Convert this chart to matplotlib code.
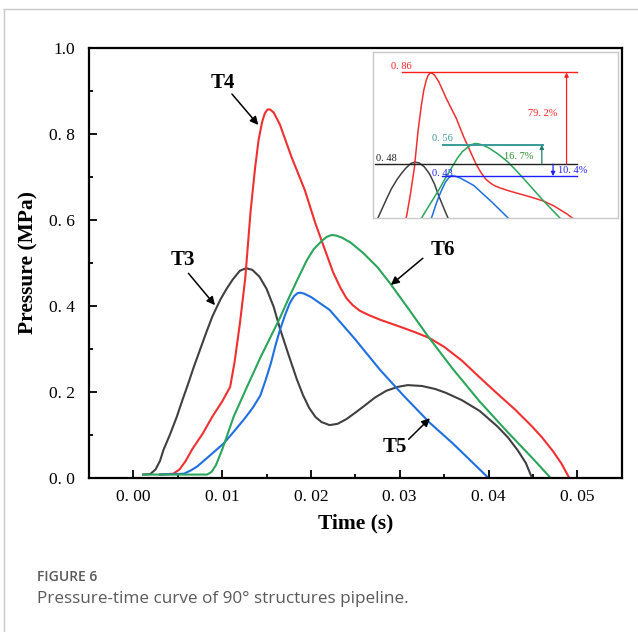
import matplotlib
matplotlib.use('Agg')
import matplotlib.pyplot as plt
from matplotlib.lines import Line2D
from matplotlib.ticker import MultipleLocator

# ---- data ----
t3_t = [0.0011, 0.0019, 0.0025, 0.0030, 0.0034, 0.0041, 0.0049, 0.0055, 0.0062, 0.0068,
        0.0075, 0.0082, 0.0089, 0.0098, 0.0105, 0.0112, 0.0120, 0.0127, 0.0134, 0.0142,
        0.0150, 0.0158, 0.0165, 0.0175, 0.0184, 0.0191, 0.0198, 0.0205, 0.0212, 0.0221,
        0.0230, 0.0240, 0.0250, 0.0259, 0.0272, 0.0285, 0.0298, 0.0309, 0.0325, 0.0340,
        0.0352, 0.0370, 0.0390, 0.0410, 0.0422, 0.0433, 0.0442, 0.0449]
t3_p = [0.008, 0.009, 0.020, 0.040, 0.066, 0.100, 0.143, 0.180, 0.221, 0.258,
        0.298, 0.338, 0.376, 0.415, 0.440, 0.462, 0.482, 0.488, 0.484, 0.468,
        0.440, 0.398, 0.348, 0.285, 0.230, 0.193, 0.163, 0.142, 0.130, 0.123,
        0.126, 0.137, 0.152, 0.166, 0.187, 0.203, 0.212, 0.216, 0.214, 0.207,
        0.198, 0.181, 0.156, 0.120, 0.094, 0.064, 0.035, 0.0]

t4_t = [0.0030, 0.0045, 0.0052, 0.0059, 0.0066, 0.0078, 0.0089, 0.0100, 0.0109, 0.0114,
        0.0120, 0.0126, 0.0132, 0.0137, 0.0141, 0.0145, 0.0148, 0.0151, 0.0154, 0.0158,
        0.0165, 0.0178, 0.0193, 0.0205, 0.0215, 0.0225, 0.0233, 0.0240, 0.0247, 0.0255,
        0.0265, 0.0278, 0.0300, 0.0316, 0.0333, 0.0350, 0.0370, 0.0390, 0.0410, 0.0430,
        0.0448, 0.0460, 0.0472, 0.0482, 0.0491]
t4_p = [0.008, 0.010, 0.020, 0.040, 0.066, 0.103, 0.143, 0.178, 0.212, 0.270,
        0.360, 0.465, 0.620, 0.720, 0.786, 0.828, 0.848, 0.857, 0.857, 0.850,
        0.822, 0.747, 0.670, 0.592, 0.535, 0.478, 0.443, 0.418, 0.402, 0.389,
        0.379, 0.368, 0.352, 0.340, 0.326, 0.305, 0.273, 0.234, 0.196, 0.159,
        0.122, 0.095, 0.064, 0.034, 0.0]

t5_t = [0.0030, 0.0057, 0.0065, 0.0072, 0.0086, 0.0102, 0.0114, 0.0126, 0.0135, 0.0143,
        0.0149, 0.0155, 0.0160, 0.0165, 0.0171, 0.0176, 0.0181, 0.0185, 0.0188, 0.0192,
        0.0200, 0.0221, 0.0250, 0.0278, 0.0305, 0.0334, 0.0360, 0.0380, 0.0400]
t5_p = [0.008, 0.010, 0.018, 0.027, 0.052, 0.081, 0.110, 0.140, 0.165, 0.192,
        0.228, 0.268, 0.308, 0.344, 0.380, 0.406, 0.423, 0.430, 0.431, 0.429,
        0.421, 0.391, 0.322, 0.251, 0.190, 0.128, 0.080, 0.040, 0.0]

t6_t = [0.0011, 0.0083, 0.0088, 0.0093, 0.0100, 0.0113, 0.0128, 0.0143, 0.0155, 0.0165,
        0.0176, 0.0184, 0.0195, 0.0203, 0.0213, 0.0218, 0.0223, 0.0228, 0.0235, 0.0245,
        0.0259, 0.0275, 0.0289, 0.0310, 0.0332, 0.0360, 0.0390, 0.0420, 0.0450, 0.0470]
t6_p = [0.008, 0.008, 0.014, 0.030, 0.066, 0.143, 0.212, 0.280, 0.330, 0.372,
        0.423, 0.458, 0.505, 0.532, 0.553, 0.561, 0.565, 0.564, 0.559, 0.547,
        0.523, 0.490, 0.453, 0.393, 0.329, 0.253, 0.178, 0.110, 0.045, 0.0]

xticks = [0.00, 0.01, 0.02, 0.03, 0.04, 0.05]
xlabels = ['0. 00', '0. 01', '0. 02', '0. 03', '0. 04', '0. 05']
yticks = [0.0, 0.2, 0.4, 0.6, 0.8, 1.0]
ylabels = ['0. 0', '0. 2', '0. 4', '0. 6', '0. 8', '1.0']

peak_vals = [0.86, 0.56, 0.48, 0.43]
pct_labels = ['79. 2%', '16. 7%', '10. 4%']

c_black = '#404040'
c_red = '#f03030'
c_blue = '#1f6fe0'
c_green = '#2aa55a'

serif = 'Liberation Serif'

fig = plt.figure(figsize=(6.38, 6.32), dpi=100)
ax = fig.add_axes([89/638, 1-478/632, (621.7-89)/638, (478-48)/632])

ax.plot(t3_t, t3_p, color=c_black, lw=1.5)
ax.plot(t4_t, t4_p, color=c_red, lw=1.5)
ax.plot(t5_t, t5_p, color=c_blue, lw=1.5)
ax.plot(t6_t, t6_p, color=c_green, lw=1.5)

ax.set_xlim(-0.005, 0.055)
ax.set_ylim(0, 1.0)
ax.set_xticks(xticks)
ax.set_xticklabels(xlabels, family=serif, fontsize=12.5)
ax.set_yticks(yticks)
ax.set_yticklabels(ylabels, family=serif, fontsize=12.5)
ax.xaxis.set_minor_locator(MultipleLocator(0.005))
ax.yaxis.set_minor_locator(MultipleLocator(0.1))
ax.tick_params(which='major', direction='in', length=6, width=1.3, pad=8)
ax.tick_params(which='minor', direction='in', length=3, width=1.3)
ax.tick_params(axis='y', which='major', pad=10)
for s in ax.spines.values():
    s.set_linewidth(1.6)

ax.set_xlabel('Time (s)', family=serif, fontsize=15.5, fontweight='bold', labelpad=6)
ax.set_ylabel('Pressure (MPa)', family=serif, fontsize=15.5, fontweight='bold', labelpad=8)

arrow = dict(arrowstyle='-|>', color='black', lw=1.1, mutation_scale=12, shrinkA=0, shrinkB=0)
ax.annotate('', xy=(0.01407, 0.821), xytext=(0.0111, 0.893), arrowprops=arrow)
ax.text(0.0101, 0.918, 'T4', family=serif, fontsize=15, fontweight='bold', ha='center', va='center')
ax.annotate('', xy=(0.00919, 0.402), xytext=(0.0062, 0.476), arrowprops=arrow)
ax.text(0.0056, 0.507, 'T3', family=serif, fontsize=15, fontweight='bold', ha='center', va='center')
ax.annotate('', xy=(0.0290, 0.449), xytext=(0.0326, 0.511), arrowprops=arrow)
ax.text(0.0349, 0.530, 'T6', family=serif, fontsize=15, fontweight='bold', ha='center', va='center')
ax.annotate('', xy=(0.0334, 0.139), xytext=(0.0310, 0.090), arrowprops=arrow)
ax.text(0.0294, 0.073, 'T5', family=serif, fontsize=15, fontweight='bold', ha='center', va='center')

# ---- inset: zoom on peaks ----
axi = fig.add_axes([373/638, 1-218/632, 245/638, 166/632])
axi.plot(t3_t, t3_p, color=c_black, lw=1.1)
axi.plot(t4_t, t4_p, color=c_red, lw=1.1)
axi.plot(t5_t, t5_p, color=c_blue, lw=1.1)
axi.plot(t6_t, t6_p, color=c_green, lw=1.1)
axi.set_xlim(0.00598, 0.04518)
axi.set_ylim(0.256, 0.945)
axi.set_xticks([])
axi.set_yticks([])
for s in axi.spines.values():
    s.set_color('#c8c8c8')
    s.set_linewidth(1)

x_end = 0.03857
axi.plot([0.01057, x_end], [peak_vals[0]] * 2, color='#ff2020', lw=1)
axi.plot([0.01713, 0.03323], [peak_vals[1]] * 2, color='#3a9a96', lw=1.4)
axi.plot([0.0063, x_end], [peak_vals[2]] * 2, color='#202020', lw=1)
axi.plot([0.01697, x_end], [peak_vals[3]] * 2, color='#2020ff', lw=1)

small_arrow = dict(arrowstyle='-|>', lw=0.9, mutation_scale=6, shrinkA=0, shrinkB=0)
axi.annotate('', xy=(0.03695, peak_vals[0]), xytext=(0.03695, peak_vals[2]),
             arrowprops=dict(small_arrow, color='#ff2020'))
axi.annotate('', xy=(0.03299, peak_vals[1]), xytext=(0.03299, peak_vals[2]),
             arrowprops=dict(small_arrow, color='#1f7f6f'))
axi.annotate('', xy=(0.03479, peak_vals[3]), xytext=(0.03479, peak_vals[2]),
             arrowprops=dict(small_arrow, color='#2020ff'))

fs = 7.5
axi.text(0.00881, 0.884, '0. 86', color='#ff2020', family=serif, fontsize=fs, va='center')
axi.text(0.03542, 0.690, pct_labels[0], color='#ff2020', family=serif, fontsize=fs, va='center', ha='right')
axi.text(0.01537, 0.584, '0. 56', color='#3a9a96', family=serif, fontsize=fs, va='center')
axi.text(0.03158, 0.513, pct_labels[1], color='#2e8b2e', family=serif, fontsize=fs, va='center', ha='right')
axi.text(0.00646, 0.504, '0. 48', color='#202020', family=serif, fontsize=fs, va='center')
axi.text(0.01537, 0.441, '0. 43', color='#2020ff', family=serif, fontsize=fs, va='center')
axi.text(0.0355, 0.452, pct_labels[2], color='#2020ff', family=serif, fontsize=fs, va='center')

# ---- caption and frame ----
fig.text(37/638, 1-577/632, 'FIGURE 6', family='Open Sans', fontweight='semibold',
         fontsize=10, color='#5a5a5a', va='center')
fig.text(37/638, 1-599/632, 'Pressure-time curve of 90° structures pipeline.',
         family='Open Sans', fontsize=12.3, color='#5a5a5a', va='center')
fig.add_artist(Line2D([4/638, 4/638], [0, 1-9/632], color='#c8c8c8', lw=1))
fig.add_artist(Line2D([4/638, 1], [1-9/632, 1-9/632], color='#c8c8c8', lw=1))

fig.savefig('out.png', dpi=100)
